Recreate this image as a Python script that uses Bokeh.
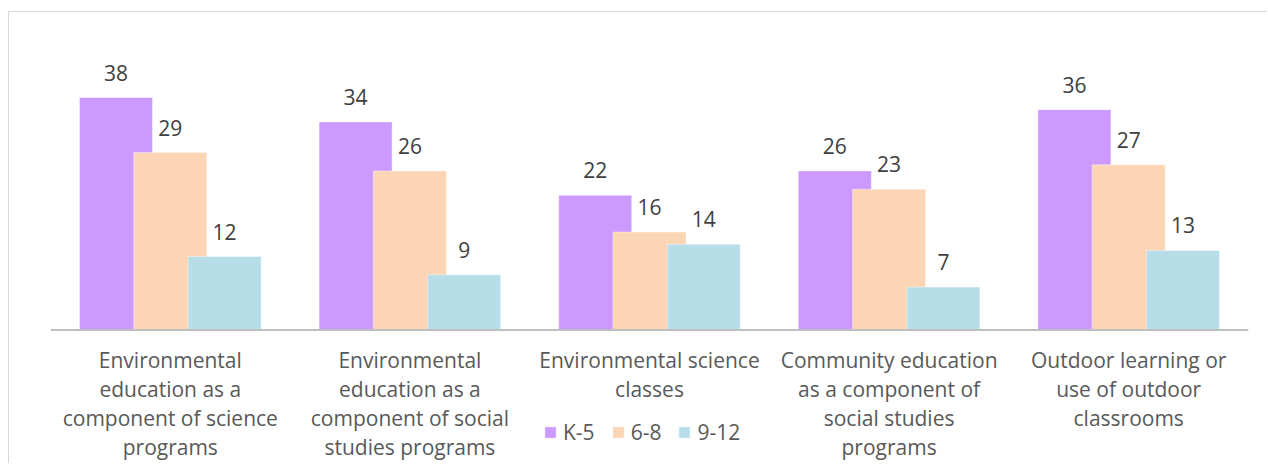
from bokeh.plotting import figure
from bokeh.models import ColumnDataSource, Range1d, FactorRange, Legend, LegendItem, Span
from bokeh.transform import dodge
from bokeh.core.properties import value
from bokeh.embed import file_html
from bokeh.resources import INLINE

categories = [
    "Environmental education as a component of science programs",
    "Environmental education as a component of social studies programs",
    "Environmental science classes",
    "Community education as a component of social studies programs",
    "Outdoor learning or use of outdoor classrooms",
]
category_labels = [
    "Environmental\neducation as a\ncomponent of science\nprograms",
    "Environmental\neducation as a\ncomponent of social\nstudies programs",
    "Environmental science\nclasses",
    "Community education\nas a component of\nsocial studies\nprograms",
    "Outdoor learning or\nuse of outdoor\nclassrooms",
]
series_names = ["K-5", "6-8", "9-12"]
k5 = [38, 34, 22, 26, 36]
g68 = [29, 26, 16, 23, 27]
g912 = [12, 9, 14, 7, 13]

colors = ["#CC99FF", "#FCD5B4", "#B7DEE8"]
offsets = [-0.2266, 0.0, 0.2266]
FONT = "Open Sans"

src = ColumnDataSource(dict(cat=categories, label=category_labels, zero=[0] * len(categories),
                            k5=k5, g68=g68, g912=g912,
                            k5_t=[str(v) for v in k5], g68_t=[str(v) for v in g68],
                            g912_t=[str(v) for v in g912]))

p = figure(width=1259, height=452, x_range=FactorRange(*categories, range_padding=0),
           y_range=Range1d(-22.01, 49.12), output_backend="svg", toolbar_location=None,
           min_border_left=41, min_border_right=20, min_border_top=17, min_border_bottom=0,
           margin=(11, 0, 0, 8),
           styles={"border-top": "1px solid #D9D9D9", "border-left": "1px solid #D9D9D9"})
p.outline_line_color = None
p.xgrid.grid_line_color = None
p.ygrid.grid_line_color = None
p.yaxis.visible = False
p.xaxis.visible = False

p.add_layout(Span(location=0, dimension="width", line_color="#BFBFBF", line_width=2))

renderers = []
for col, c, off in zip(["k5", "g68", "g912"], colors, offsets):
    r = p.vbar(x=dodge("cat", off, range=p.x_range), top=col, bottom=0, width=0.3047, source=src,
               fill_color=c, line_color="white", line_alpha=0.4, line_width=1)
    renderers.append(r)

for col, off in zip(["k5", "g68", "g912"], offsets):
    p.text(x=dodge("cat", off, range=p.x_range), y=col, text=col + "_t", source=src,
           text_font=value(FONT), text_font_size="21px", text_color="#404040",
           text_align="center", text_baseline="middle", y_offset=-25)

p.text(x="cat", y="zero", text="label", source=src, text_font=value(FONT),
       text_font_size="21px", text_color="#595959", text_align="center",
       text_baseline="top", text_line_height=1.035, y_offset=16)

legend = Legend(items=[LegendItem(label=n, renderers=[r]) for n, r in zip(series_names, renderers)],
                orientation="horizontal", location=(493, 18), padding=0, margin=0,
                border_line_color=None, background_fill_alpha=0,
                glyph_width=14, glyph_height=14, label_standoff=6, spacing=16,
                label_text_font=FONT, label_text_font_size="21px", label_text_color="#595959",
                label_height=14)
p.add_layout(legend)

open("out.html", "w").write(file_html(p, INLINE))
